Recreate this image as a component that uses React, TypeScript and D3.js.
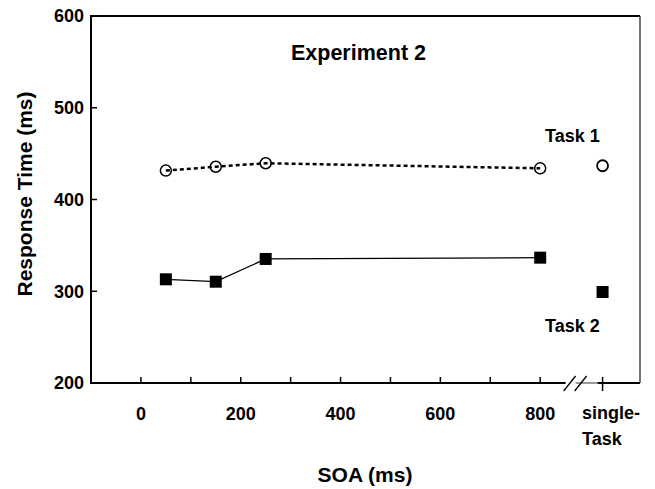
import React from "react";
import * as d3 from "d3";

const soa = [50, 150, 250, 800];
const task1 = [431.5, 435.7, 439.5, 434];
const task2 = [313, 310.4, 335.2, 336.6];
const singleTask1 = 436.8;
const singleTask2 = 299.2;
const singlePos = 925;
const xTickLabels = [0, 200, 400, 600, 800];
const xMinorTicks = [0, 100, 200, 300, 400, 500, 600, 700, 800];
const yTicks = [200, 300, 400, 500, 600];

const W = 655;
const H = 489;
const L = 91, R = 640, T = 16, B = 383;

export default function App() {
  const x = d3.scaleLinear().domain([-100, 1000]).range([L, R]);
  const y = d3.scaleLinear().domain([200, 600]).range([B, T]);
  const line = d3.line<[number, number]>().x(d => x(d[0])).y(d => y(d[1]));
  const p1 = soa.map((s, i) => [s, task1[i]] as [number, number]);
  const p2 = soa.map((s, i) => [s, task2[i]] as [number, number]);
  const font = "'Liberation Sans', Arial, Helvetica, sans-serif";
  const sx = x(singlePos);
  const bx = x(855);
  return (
    <svg width={W} height={H} style={{ position: "absolute", left: 0, top: 0, background: "#fff" }} fontFamily={font} fontWeight="bold">
      {/* frame */}
      <line x1={L} x2={R} y1={T} y2={T} stroke="#000" strokeWidth={2} />
      <line x1={R} x2={R} y1={T} y2={B} stroke="#444" strokeWidth={1.5} />
      <line x1={L} x2={L} y1={T - 1} y2={B + 1} stroke="#000" strokeWidth={2} />
      {/* bottom axis with break */}
      <line x1={L} x2={bx - 2} y1={B} y2={B} stroke="#000" strokeWidth={2} />
      <line x1={bx + 8} x2={sx - 5} y1={B} y2={B} stroke="#777" strokeWidth={1.5} />
      <line x1={sx - 5} x2={R} y1={B} y2={B} stroke="#000" strokeWidth={2} />
      <line x1={bx - 4} y1={B + 8} x2={bx + 8} y2={B - 7} stroke="#000" strokeWidth={1.3} />
      <line x1={bx + 7} y1={B + 8} x2={bx + 19} y2={B - 7} stroke="#000" strokeWidth={1.3} />
      {xMinorTicks.map(t => (
        <line key={t} x1={x(t)} x2={x(t)} y1={B} y2={B - 6} stroke="#000" strokeWidth={1.5} />
      ))}
      <line x1={sx} x2={sx} y1={B - 6} y2={B + 8} stroke="#000" strokeWidth={1.5} />
      {xTickLabels.map(t => (
        <text key={t} x={x(t)} y={B + 37} textAnchor="middle" fontSize={18}>{t}</text>
      ))}
      <text x={582} y={B + 36} fontSize={18}>single-</text>
      <text x={582} y={B + 62} fontSize={18}>Task</text>
      {yTicks.map(t => (
        <g key={t}>
          {t !== 200 && <line x1={L} x2={L + 6} y1={y(t)} y2={y(t)} stroke="#000" strokeWidth={1.5} />}
          <text x={84} y={y(t)} dy="0.36em" textAnchor="end" fontSize={18}>{t}</text>
        </g>
      ))}
      {/* axis titles */}
      <text transform={`translate(32, 194) rotate(-90)`} textAnchor="middle" fontSize={21}>Response Time (ms)</text>
      <text x={365} y={482} textAnchor="middle" fontSize={21}>SOA (ms)</text>
      <text x={358.5} y={60} textAnchor="middle" fontSize={21.5}>Experiment 2</text>
      <text x={545} y={142} fontSize={18}>Task 1</text>
      <text x={545} y={332} fontSize={18}>Task 2</text>
      {/* series */}
      <path d={line(p1) || ""} fill="none" stroke="#000" strokeWidth={2.5} strokeDasharray="4,3" />
      <path d={line(p2) || ""} fill="none" stroke="#000" strokeWidth={1.3} />
      {p1.map((d, i) => (
        <circle key={i} cx={x(d[0])} cy={y(d[1])} r={5.5} fill="none" stroke="#000" strokeWidth={1.5} />
      ))}
      <circle cx={sx} cy={y(singleTask1)} r={5.5} fill="#fff" stroke="#000" strokeWidth={1.8} />
      {p2.map((d, i) => (
        <rect key={i} x={x(d[0]) - 6} y={y(d[1]) - 6} width={12} height={12} fill="#000" />
      ))}
      <rect x={sx - 6} y={y(singleTask2) - 6} width={12} height={12} fill="#000" />
    </svg>
  );
}
